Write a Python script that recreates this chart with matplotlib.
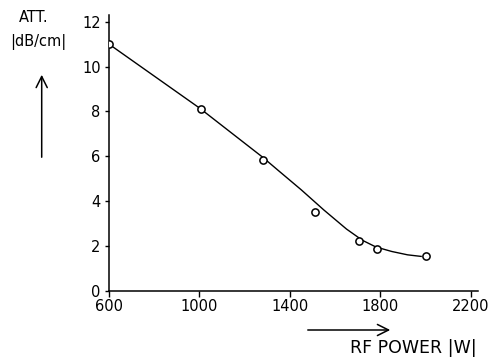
import numpy as np
import matplotlib
matplotlib.use('Agg')
import matplotlib.pyplot as plt

# measured points (RF power in W, attenuation in dB/cm)
power = [600, 1005, 1282, 1512, 1706, 1786, 2003]
att = [11.0, 8.1, 5.85, 3.5, 2.2, 1.86, 1.54]

# hand-drawn fitted curve through the points
curve_power = [600, 1000, 1280, 1350, 1450, 1550, 1650, 1720, 1780, 1850, 1920, 1980]
curve_att = [11.0, 8.15, 5.95, 5.35, 4.5, 3.6, 2.75, 2.25, 1.95, 1.75, 1.6, 1.53]

xticks = [600, 1000, 1400, 1800, 2200]
yticks = [0, 2, 4, 6, 8, 10, 12]

plt.rcParams['font.family'] = ['DejaVu Sans']

fig = plt.figure(figsize=(4.92, 3.61), dpi=100)
ax = fig.add_axes([109 / 492, 1 - 290.7 / 361, (477.7 - 109) / 492, (290.7 - 15) / 361])

ax.plot(curve_power, curve_att, color='black', lw=1.0, zorder=2)
ax.plot(power, att, 'o', ms=5.2, mfc='white', mec='black', mew=1.1, zorder=3)

ax.set_xlim(600, 2230)
ax.set_ylim(0, 12.3)
ax.set_xticks(xticks)
ax.set_yticks(yticks)
ax.tick_params(axis='x', labelsize=10.5, length=4, width=1, direction='out', pad=2)
ax.tick_params(axis='y', labelsize=10.5, length=3, width=1, direction='out', pad=3)
for s in ['top', 'right']:
    ax.spines[s].set_visible(False)
for s in ['left', 'bottom']:
    ax.spines[s].set_linewidth(1.1)

# axis labels and arrows, old-style
fig.text(34 / 492, 1 - 18 / 361, 'ATT.', ha='center', va='center', fontsize=10.5, weight='medium')
fig.text(38 / 492, 1 - 42 / 361, '|dB/cm|', ha='center', va='center', fontsize=10.5, weight='medium')
fig.text(413 / 492, 1 - 348 / 361, 'RF POWER |W|', ha='center', va='center', fontsize=12.5)

fig.add_artist(matplotlib.patches.FancyArrowPatch(
    (41.7 / 492, 1 - 160 / 361), (41.7 / 492, 1 - 72 / 361), transform=fig.transFigure,
    arrowstyle='->,head_length=8,head_width=4', mutation_scale=1, lw=1.1, color='black'))
fig.add_artist(matplotlib.patches.FancyArrowPatch(
    (305 / 492, 1 - 330 / 361), (393 / 492, 1 - 330 / 361), transform=fig.transFigure,
    arrowstyle='->,head_length=8,head_width=4', mutation_scale=1, lw=1.1, color='black'))

plt.savefig('out.png', dpi=100)
